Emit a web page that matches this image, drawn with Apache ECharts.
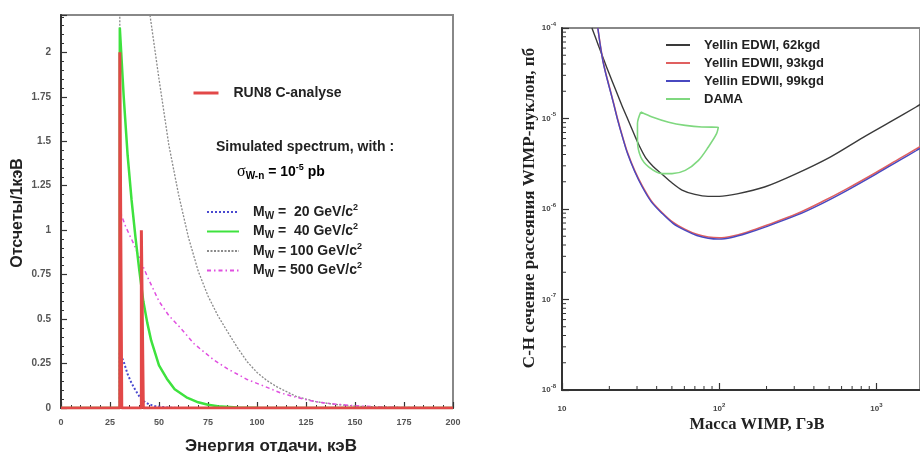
<!DOCTYPE html>
<html>
<head>
<meta charset="utf-8">
<script src="https://cdn.jsdelivr.net/npm/echarts@6/dist/echarts.min.js"></script>
<style>
  html, body { margin: 0; padding: 0; background: #fff; }
  #main { width: 920px; height: 452px; }
</style>
</head>
<body>
<div id="main"></div>
<script>
// ---------- left panel: recoil spectrum (counts / 1 keV vs keV) ----------
const run8Hist = [[0, 0], [30, 0], [30, 2.0], [31, 2.0], [31, 0], [41, 0], [41, 1.0], [42, 1.0], [42, 0], [200, 0]];

const spec20 = [[0, 0], [30, 0], [30, 0.31], [32, 0.26], [34, 0.19], [36, 0.14], [38, 0.1], [40, 0.065],
  [42, 0.04], [45, 0.02], [48, 0.01], [55, 0.002], [60, 0], [200, 0]];

const spec40 = [[0, 0], [30, 0], [30, 2.14], [32, 1.75], [34, 1.42], [36, 1.17], [38, 0.96], [40, 0.77],
  [42, 0.6], [44, 0.48], [46, 0.38], [50, 0.24], [54, 0.165], [58, 0.105], [64, 0.06], [70, 0.032],
  [75, 0.018], [80, 0.01], [90, 0.003], [100, 0.001], [110, 0], [200, 0]];

const spec100 = [[0, 0], [30, 0], [30, 4.4], [35, 3.5], [40, 2.8], [45.4, 2.21], [50, 1.85], [55, 1.48],
  [60, 1.2], [65, 0.96], [70, 0.77], [75, 0.63], [80, 0.52], [86, 0.41], [90, 0.34], [95, 0.26],
  [100, 0.2], [105, 0.155], [110, 0.12], [120, 0.065], [130, 0.036], [140, 0.02], [150, 0.011],
  [160, 0.006], [175, 0.002], [200, 0.0005]];

const spec500 = [[0, 0], [30, 0], [30, 1.11], [33, 1.02], [37, 0.925], [44, 0.74], [50, 0.6], [55, 0.52],
  [61, 0.45], [68, 0.36], [78, 0.27], [85, 0.22], [95, 0.16], [102, 0.13], [112, 0.085], [120, 0.06],
  [129, 0.037], [137, 0.025], [146, 0.016], [155, 0.01], [163, 0.006], [175, 0.003], [190, 0.0015], [200, 0.001]];

const massNames = ['MW = 20', 'MW = 40', 'MW = 100', 'MW = 500'];

// ---------- right panel: exclusion limits (pb vs GeV) ----------
const edwi62 = [[15.5, 1e-4], [17, 6.5e-5], [18.5, 4.4e-5], [20, 3.1e-5], [22, 2.05e-5], [24, 1.4e-5],
  [26.5, 9.4e-6], [29, 6.5e-6], [31, 5.0e-6], [34, 3.7e-6], [38, 2.95e-6], [43, 2.45e-6], [50, 1.95e-6],
  [58, 1.62e-6], [70, 1.45e-6], [85, 1.38e-6], [100, 1.38e-6], [130, 1.47e-6], [194, 1.75e-6],
  [300, 2.4e-6], [508, 3.75e-6], [824, 6.2e-6], [1200, 9.0e-6], [1786, 1.34e-5], [1900, 1.43e-5]];

const edwii93 = [[16.9, 1e-4], [17.5, 6.6e-5], [18.2, 4.4e-5], [19, 3.15e-5], [20, 2.25e-5], [21.2, 1.52e-5],
  [22.6, 9.8e-6], [24.2, 6.4e-6], [26.1, 4.2e-6], [29, 2.65e-6], [32.4, 1.8e-6], [37, 1.23e-6],
  [43.4, 9.1e-7], [51, 7.1e-7], [60.8, 5.95e-7], [72, 5.25e-7], [85, 4.9e-7], [100, 4.8e-7],
  [120, 5.0e-7], [150, 5.55e-7], [200, 6.6e-7], [314, 8.9e-7], [450, 1.2e-6], [647, 1.67e-6],
  [1000, 2.55e-6], [1400, 3.6e-6], [1786, 4.6e-6], [1900, 4.9e-6]];

const edwii99 = [[16.9, 1e-4], [17.5, 6.5e-5], [18.2, 4.3e-5], [19, 3.1e-5], [20, 2.2e-5], [21.2, 1.5e-5],
  [22.6, 9.6e-6], [24.2, 6.3e-6], [26.1, 4.1e-6], [29, 2.6e-6], [32.4, 1.75e-6], [37, 1.2e-6],
  [43.4, 8.9e-7], [51, 6.9e-7], [60.8, 5.8e-7], [72, 5.1e-7], [85, 4.75e-7], [100, 4.65e-7],
  [120, 4.85e-7], [150, 5.4e-7], [200, 6.4e-7], [314, 8.6e-7], [450, 1.15e-6], [647, 1.6e-6],
  [1000, 2.45e-6], [1400, 3.45e-6], [1786, 4.4e-6], [1900, 4.7e-6]];

const dama = [[31.7, 1.18e-5], [37.5, 1.04e-5], [47.7, 9.1e-6], [60.8, 8.4e-6], [77.4, 8.05e-6], [98.6, 8.0e-6],
  [96.2, 6.8e-6], [85.3, 4.85e-6], [73.8, 3.45e-6], [60.8, 2.67e-6], [50.1, 2.46e-6], [43.4, 2.46e-6],
  [35.7, 2.9e-6], [31.7, 3.75e-6], [30.2, 5.7e-6], [30.2, 8.8e-6], [31.7, 1.18e-5]];

const limitNames = ['Yellin EDWI, 62kgd', 'Yellin EDWII, 93kgd', 'Yellin EDWII, 99kgd', 'DAMA'];

// minor tick positions of the log axes
const massMinor = [20, 30, 40, 50, 60, 70, 80, 90, 200, 300, 400, 500, 600, 700, 800, 900];
const sigmaMinor = [];
[1e-8, 1e-7, 1e-6, 1e-5].forEach(d => { for (let k = 2; k <= 9; k++) sigmaMinor.push(k * d); });

const SANS = 'Liberation Sans, Arial, sans-serif';
const SERIF = 'Liberation Serif, Times New Roman, serif';

const chart = echarts.init(document.getElementById('main'));

const supRich = {
  m: { fontFamily: SANS, fontWeight: 'bold', fontSize: 14, lineHeight: 18, color: '#222' },
  s: { fontFamily: SANS, fontWeight: 'bold', fontSize: 10, lineHeight: 10, verticalAlign: 'bottom', color: '#222' },
  p: { fontFamily: SANS, fontWeight: 'bold', fontSize: 9, lineHeight: 9, verticalAlign: 'top', color: '#222' },
  g: { fontFamily: SERIF, fontSize: 16, lineHeight: 18, color: '#222' }
};

const logRich = {
  b: { fontFamily: SANS, fontWeight: 'bold', fontSize: 8, lineHeight: 14, color: '#444' },
  e: { fontFamily: SANS, fontWeight: 'bold', fontSize: 6, lineHeight: 6, verticalAlign: 'top', color: '#444' }
};

function powLabel(v) {
  const e = Math.log10(v);
  if (Math.abs(e - Math.round(e)) > 1e-6) return '';
  const n = Math.round(e);
  return n === 1 ? '{b|10}' : '{b|10}{e|' + n + '}';
}

function minorTick(dir) {
  return function (params, api) {
    const p = api.coord([api.value(0), api.value(1)]);
    const shape = dir === 'x'
      ? { x1: p[0], y1: p[1], x2: p[0], y2: p[1] - 4 }
      : { x1: p[0], y1: p[1], x2: p[0] + 4, y2: p[1] };
    return { type: 'line', shape: shape, style: { stroke: '#333', lineWidth: 1 } };
  };
}

const option = {
  backgroundColor: '#fff',
  animation: false,
  grid: [
    { left: 61, top: 15, width: 392, height: 393, show: true, borderColor: '#888', borderWidth: 2 },
    { left: 562, top: 28, width: 362, height: 362, show: true, borderColor: '#888', borderWidth: 2 }
  ],
  xAxis: [
    {
      gridIndex: 0, type: 'value', min: 0, max: 200, interval: 25,
      axisLine: { show: true, onZero: false, lineStyle: { color: '#333', width: 2 } },
      axisTick: { inside: true, length: 6, lineStyle: { color: '#333', width: 1.2 } },
      minorTick: { show: true, splitNumber: 5, length: 3, lineStyle: { color: '#333' } },
      axisLabel: { margin: 10, color: '#555', fontSize: 9, fontWeight: 'bold', fontFamily: SANS },
      splitLine: { show: false }
    },
    {
      gridIndex: 1, type: 'log', logBase: 10, min: 10, max: 1892,
      axisLine: { show: true, onZero: false, lineStyle: { color: '#333', width: 2 } },
      axisTick: { inside: true, length: 7, lineStyle: { color: '#333', width: 1.2 } },
      axisLabel: { margin: 12, formatter: powLabel, rich: logRich, showMaxLabel: false },
      splitLine: { show: false }
    }
  ],
  yAxis: [
    {
      gridIndex: 0, type: 'value', min: 0, max: 2.21, interval: 0.25,
      axisLine: { show: true, onZero: false, lineStyle: { color: '#333', width: 2 } },
      axisTick: { inside: true, length: 6, lineStyle: { color: '#333', width: 1.2 } },
      minorTick: { show: true, splitNumber: 5, length: 3, lineStyle: { color: '#333' } },
      axisLabel: { margin: 10, color: '#555', fontSize: 10, fontWeight: 'bold', fontFamily: SANS, showMaxLabel: false },
      splitLine: { show: false }
    },
    {
      gridIndex: 1, type: 'log', logBase: 10, min: 1e-8, max: 1e-4,
      axisLine: { show: true, onZero: false, lineStyle: { color: '#333', width: 2 } },
      axisTick: { inside: true, length: 7, lineStyle: { color: '#333', width: 1.2 } },
      axisLabel: { margin: 6, formatter: powLabel, rich: logRich },
      splitLine: { show: false }
    }
  ],
  legend: [
    {
      data: ['RUN8 C-analyse'], left: 192, top: 85, padding: 0, selectedMode: false,
      itemWidth: 25, itemHeight: 12, itemStyle: { opacity: 0 }, lineStyle: { width: 3 },
      textStyle: { fontFamily: SANS, fontWeight: 'bold', fontSize: 14, lineHeight: 16, color: '#222', padding: [0, 0, 0, 10] }
    },
    {
      data: massNames, left: 206, top: 203, orient: 'vertical', padding: 0, selectedMode: false,
      itemWidth: 32, itemHeight: 12, itemGap: 1.5, itemStyle: { opacity: 0 },
      formatter: function (name) {
        const v = name.split(' = ')[1];
        return '{m|M}{s|W}{m| = ' + (v.length < 3 ? ' ' : '') + v + ' GeV/c}{p|2}';
      },
      textStyle: { rich: supRich, padding: [0, 0, 0, 9] }
    },
    {
      data: limitNames, left: 665, top: 38, orient: 'vertical', padding: 0, selectedMode: false,
      itemWidth: 24, itemHeight: 12, itemGap: 4, itemStyle: { opacity: 0 }, lineStyle: { width: 2 },
      textStyle: { fontFamily: SANS, fontWeight: 'bold', fontSize: 13, lineHeight: 14, color: '#222', padding: [0, 0, 0, 9] }
    }
  ],
  graphic: [
    { type: 'text', x: 216, y: 147, style: { text: 'Simulated spectrum, with :', font: 'bold 14px ' + SANS, fill: '#222', align: 'left', verticalAlign: 'middle' } },
    { type: 'text', x: 237, y: 172, style: { text: '{g|σ}{s|W-n}{m| = 10}{p|-5}{m| pb}', rich: supRich, align: 'left', verticalAlign: 'middle' } },
    { type: 'text', x: 18, y: 213, rotation: Math.PI / 2, style: { text: 'Отсчеты/1кэВ', font: 'bold 16px ' + SANS, fill: '#222', align: 'center', verticalAlign: 'middle' } },
    { type: 'text', x: 271, y: 446, style: { text: 'Энергия отдачи, кэВ', font: 'bold 17px ' + SANS, fill: '#222', align: 'center', verticalAlign: 'middle' } },
    { type: 'text', x: 530, y: 208, rotation: Math.PI / 2, style: { text: 'С-Н сечение рассеяния WIMP-нуклон, пб', font: 'bold 17px ' + SERIF, fill: '#222', align: 'center', verticalAlign: 'middle' } },
    { type: 'text', x: 757, y: 425, style: { text: 'Масса WIMP, ГэВ', font: 'bold 16.5px ' + SERIF, fill: '#222', align: 'center', verticalAlign: 'middle' } }
  ],
  series: [
    { name: massNames[2], type: 'line', xAxisIndex: 0, yAxisIndex: 0, data: spec100, symbol: 'none',
      lineStyle: { color: '#8a8a8a', width: 1.3, type: [2, 1.5] }, itemStyle: { color: '#8a8a8a' } },
    { name: massNames[3], type: 'line', xAxisIndex: 0, yAxisIndex: 0, data: spec500, symbol: 'none',
      lineStyle: { color: '#e04fe0', width: 1.5, type: [4, 3, 1.5, 3] }, itemStyle: { color: '#e04fe0' } },
    { name: massNames[1], type: 'line', xAxisIndex: 0, yAxisIndex: 0, data: spec40, symbol: 'none',
      lineStyle: { color: '#3ee23e', width: 2.5 }, itemStyle: { color: '#3ee23e' } },
    { name: massNames[0], type: 'line', xAxisIndex: 0, yAxisIndex: 0, data: spec20, symbol: 'none',
      lineStyle: { color: '#4a4ad0', width: 2, type: [2, 2] }, itemStyle: { color: '#4a4ad0' } },
    { name: 'RUN8 C-analyse', type: 'line', xAxisIndex: 0, yAxisIndex: 0, data: run8Hist, symbol: 'none', z: 5,
      lineStyle: { color: '#e24848', width: 3 }, itemStyle: { color: '#e24848' },
      areaStyle: { color: '#e24848', opacity: 1 } },

    { name: limitNames[0], type: 'line', xAxisIndex: 1, yAxisIndex: 1, data: edwi62, symbol: 'none', smooth: 0.3,
      lineStyle: { color: '#3a3a3a', width: 1.4 }, itemStyle: { color: '#3a3a3a' } },
    { name: limitNames[1], type: 'line', xAxisIndex: 1, yAxisIndex: 1, data: edwii93, symbol: 'none', smooth: 0.3,
      lineStyle: { color: '#e06060', width: 1.6 }, itemStyle: { color: '#e06060' } },
    { name: limitNames[2], type: 'line', xAxisIndex: 1, yAxisIndex: 1, data: edwii99, symbol: 'none', smooth: 0.3,
      lineStyle: { color: '#4848c0', width: 1.4 }, itemStyle: { color: '#4848c0' } },
    { name: limitNames[3], type: 'line', xAxisIndex: 1, yAxisIndex: 1, data: dama, symbol: 'none', smooth: 0.3,
      lineStyle: { color: '#7fd87f', width: 1.6 }, itemStyle: { color: '#7fd87f' } },

    { type: 'custom', xAxisIndex: 1, yAxisIndex: 1, silent: true, clip: false,
      data: massMinor.map(m => [m, 1e-8]), renderItem: minorTick('x') },
    { type: 'custom', xAxisIndex: 1, yAxisIndex: 1, silent: true, clip: false,
      data: sigmaMinor.map(s => [10, s]), renderItem: minorTick('y') }
  ]
};

chart.setOption(option);
</script>
</body>
</html>
